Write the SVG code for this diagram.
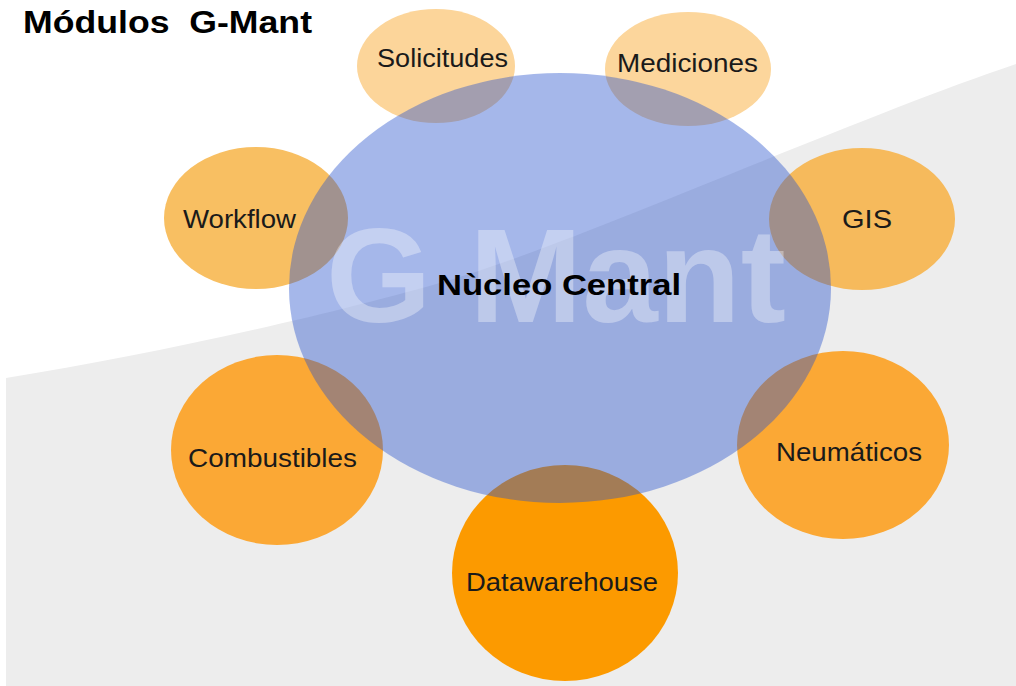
<svg xmlns="http://www.w3.org/2000/svg" width="1016" height="686" viewBox="0 0 1016 686">
  <style>
    .lbl { font-family: "Liberation Sans", Arial, sans-serif; font-size: 25px; fill: #1a1a1a; }
    .bold { font-family: "Liberation Sans", Arial, sans-serif; font-weight: bold; fill: #000; }
    .core { fill: rgb(41,84,205); fill-opacity: 0.42; }
    .wm { font-family: "Liberation Sans", Arial, sans-serif; font-weight: bold; font-size: 134px; fill: #ffffff; fill-opacity: 0.35; }
  </style>
  <rect x="0" y="0" width="1016" height="686" fill="#ffffff"/>
  <path id="backdrop" d="M6,378 C150,355 330,315 450,280 C570,245 850,120 1016,64 L1016,686 L6,686 Z" fill="#ededed"/>
  <text x="23" y="33" class="bold" font-size="32" textLength="289" lengthAdjust="spacingAndGlyphs" xml:space="preserve">Módulos  G-Mant</text>
  <g id="connectors"/>
  <g id="node-solicitudes">
    <ellipse cx="436" cy="66" rx="79" ry="57" fill="#fcd59a"/>
    <text x="377" y="67" class="lbl" textLength="131" lengthAdjust="spacingAndGlyphs">Solicitudes</text>
  </g>
  <g id="node-mediciones">
    <ellipse cx="688" cy="69" rx="83" ry="57" fill="#fcd69c"/>
    <text x="617" y="72" class="lbl" textLength="141" lengthAdjust="spacingAndGlyphs">Mediciones</text>
  </g>
  <g id="node-workflow">
    <ellipse cx="256" cy="218" rx="92" ry="71" fill="#f8bf62"/>
    <text x="183" y="228" class="lbl" textLength="113" lengthAdjust="spacingAndGlyphs">Workflow</text>
  </g>
  <g id="node-gis">
    <ellipse cx="862" cy="219" rx="93" ry="71" fill="#f6ba5c"/>
    <text x="842" y="228" class="lbl" textLength="50" lengthAdjust="spacingAndGlyphs">GIS</text>
  </g>
  <g id="node-combustibles">
    <ellipse cx="277" cy="450" rx="106" ry="95" fill="#fba835"/>
    <text x="188" y="467" class="lbl" textLength="169" lengthAdjust="spacingAndGlyphs">Combustibles</text>
  </g>
  <g id="node-neumaticos">
    <ellipse cx="843" cy="445" rx="106" ry="94" fill="#fba835"/>
    <text x="776" y="461" class="lbl" textLength="146" lengthAdjust="spacingAndGlyphs">Neumáticos</text>
  </g>
  <g id="node-datawarehouse">
    <ellipse cx="565" cy="573" rx="113" ry="108" fill="#fc9a00"/>
    <text x="466" y="591" class="lbl" textLength="192" lengthAdjust="spacingAndGlyphs">Datawarehouse</text>
  </g>
  <g id="node-nucleo">
    <ellipse cx="560" cy="288" rx="271" ry="215" class="core"/>
    <text x="326" y="322" class="wm" textLength="460" lengthAdjust="spacingAndGlyphs">G Mant</text>
    <text x="437" y="295" class="bold" font-size="30" textLength="244" lengthAdjust="spacingAndGlyphs">Nùcleo Central</text>
  </g>
</svg>
